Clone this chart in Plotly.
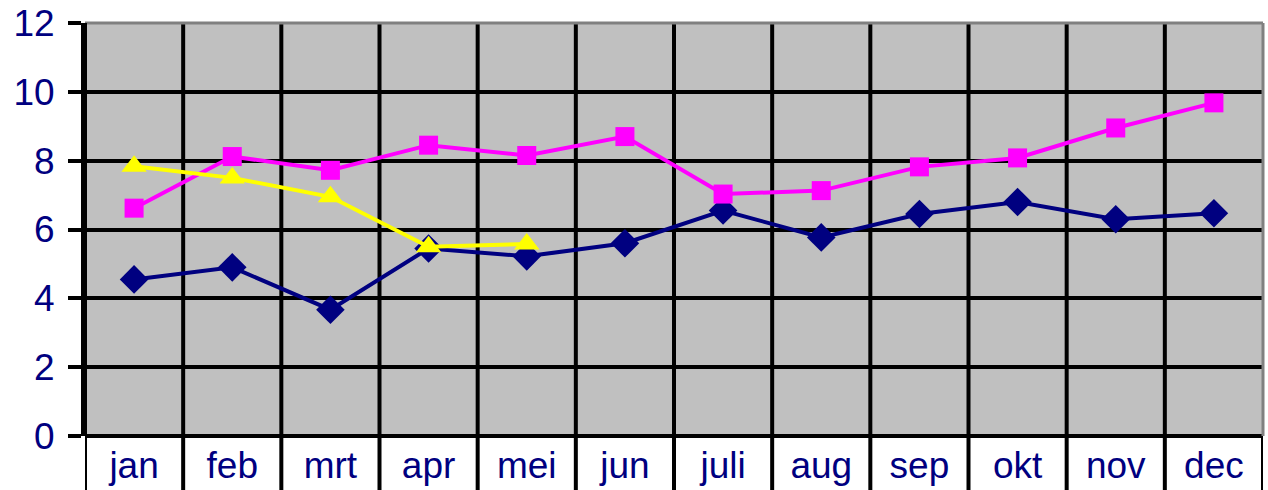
import plotly.graph_objects as go

months = ["jan", "feb", "mrt", "apr", "mei", "jun", "juli", "aug", "sep", "okt", "nov", "dec"]
blue_vals = [4.55, 4.9, 3.67, 5.45, 5.22, 5.6, 6.55, 5.77, 6.45, 6.8, 6.3, 6.47]
pink_vals = [6.62, 8.12, 7.72, 8.45, 8.15, 8.7, 7.03, 7.13, 7.82, 8.08, 8.95, 9.68]
yellow_months = ["jan", "feb", "mrt", "apr", "mei"]
yellow_vals = [7.84, 7.5, 6.95, 5.5, 5.58]

NAVY = "#000080"
fig = go.Figure()
fig.add_trace(go.Scatter(x=months, y=blue_vals, mode="lines+markers",
                         line=dict(color=NAVY, width=4),
                         marker=dict(symbol="diamond", size=22, color=NAVY)))
fig.add_trace(go.Scatter(x=months, y=pink_vals, mode="lines+markers",
                         line=dict(color="#FF00FF", width=4),
                         marker=dict(symbol="square", size=19, color="#FF00FF")))
fig.add_trace(go.Scatter(x=yellow_months, y=yellow_vals, mode="lines+markers",
                         line=dict(color="#FFFF00", width=4),
                         marker=dict(symbol="triangle-up", size=22, color="#FFFF00")))

shapes = []
shapes.append(dict(type="line", xref="paper", yref="paper", x0=0, x1=1, y0=1, y1=1,
                   line=dict(color="#808080", width=3), layer="above"))
shapes.append(dict(type="line", xref="paper", yref="paper", x0=1, x1=1, y0=0, y1=1,
                   line=dict(color="#808080", width=3), layer="above"))
for i in range(13):
    x = i - 0.5
    top = 1 if i < 12 else 0
    shapes.append(dict(type="line", xref="x", yref="paper", x0=x, x1=x, y0=-0.14, y1=top,
                       line=dict(color="black", width=4), layer="below" if 0 < i < 12 else "above"))

fig.update_layout(
    width=1268, height=490,
    margin=dict(l=85, r=5, t=23, b=54),
    plot_bgcolor="#C0C0C0", paper_bgcolor="white",
    showlegend=False,
    font=dict(family="Liberation Sans, Arial, sans-serif", size=37, color=NAVY),
    shapes=shapes,
    xaxis=dict(type="category", categoryorder="array", categoryarray=months,
               range=[-0.5, 11.5], showgrid=False, showline=False, zeroline=False,
               automargin=False,
               ticks="", ticklabelstandoff=4, tickfont=dict(size=37, color=NAVY)),
    yaxis=dict(range=[0, 12], dtick=2, showgrid=True, gridcolor="black", gridwidth=4,
               zeroline=True, zerolinecolor="black", zerolinewidth=4,
               showline=True, linecolor="black", linewidth=4,
               automargin=False, ticklabeloverflow="allow",
               ticks="outside", ticklen=13, tickwidth=4, tickcolor="black",
               ticklabelstandoff=6, tickfont=dict(size=37, color=NAVY)),
)
fig.write_html("out.html", config={"displayModeBar": False},
               post_script="document.body.style.margin='0';document.body.style.overflow='hidden';")
